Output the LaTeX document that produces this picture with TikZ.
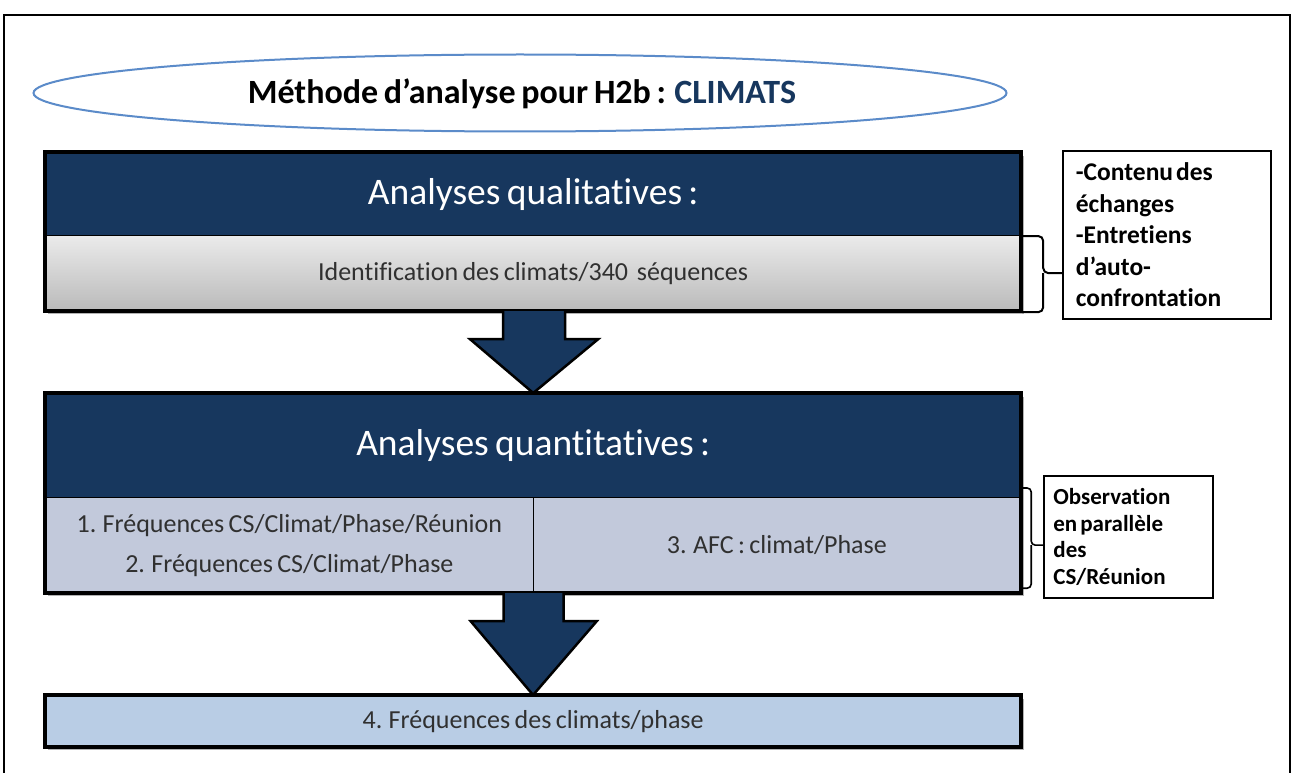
\documentclass[tikz,border=0pt]{standalone}
\usepackage{fontspec}
\setmainfont[Ligatures=CommonOff, WordSpace=0.75]{Carlito}
\usetikzlibrary{calc,shapes.geometric}
\definecolor{navy}{HTML}{17375E}
\definecolor{ellblue}{HTML}{5B8BC9}
\definecolor{lightq}{HTML}{C2C9DB}
\definecolor{lightf}{HTML}{B9CDE5}
\definecolor{txt}{HTML}{303030}
\begin{document}
\begin{tikzpicture}[x=1pt,y=-1pt,
  hdr/.style={fill=navy, draw=black, line width=1.5pt, anchor=north west, text=white, font=\fontsize{37.5}{42}\selectfont, inner sep=0pt},
  part/.style={draw=black, line width=1.2pt, anchor=north west, text=txt, font=\fontsize{26}{30}\selectfont, inner sep=0pt, align=center},
  side/.style={draw=black, line width=1.8pt, fill=white, inner sep=0pt, align=left, font=\bfseries\fontsize{25.5}{31.5}\selectfont},
  bigarrow/.style={fill=navy, draw=black, line width=2.5pt, line join=miter},
  outline/.style={draw=black, line width=3.5pt},
  shadowbox/.style={fill=black!30},
  bracket/.style={line width=2pt, rounded corners=5pt},
]
\useasboundingbox (0,0) rectangle (1293,773);
\clip (0,0) rectangle (1293,773);
% outer frame
\draw[line width=2pt] (4,15) rectangle (1290,800);
% title ellipse
\node[draw=ellblue, line width=2pt, ellipse, minimum width=973, minimum height=77] (title) at (520,93) {};
\node[font=\bfseries\fontsize{34}{38}\selectfont] (titletext) at (522,94) {Méthode d’analyse pour H2b : \textcolor{navy}{CLIMATS}};

% shadows
\fill[shadowbox] (48,156) rectangle (1024,314);
\fill[shadowbox] (48,397) rectangle (1024,596);
\fill[shadowbox] (48,699) rectangle (1024,750);

% box 1: qualitative
\node[hdr, minimum width=975, minimum height=83] (qh) at (45,152) {Analyses qualitatives :};
\node[part, minimum width=975, minimum height=75, shade, top color=black!8, bottom color=black!27] (ql) at (45,235) {Identification des climats/340\ \ séquences};
\draw[outline] (qh.north west) rectangle (ql.south east);

% box 2: quantitative
\node[hdr, minimum width=975, minimum height=104] (nh) at (45,393) {Analyses quantitatives :};
\node[part, fill=lightq, minimum width=487.5, minimum height=95] (n1) at (45,497) {1. Fréquences CS/Climat/Phase/Réunion\\[10pt]2. Fréquences CS/Climat/Phase};
\node[part, fill=lightq, minimum width=487.5, minimum height=95] (n2) at (532.5,497) {3. AFC : climat/Phase};
\draw[outline] (nh.north west) rectangle (n2.south east);

% box 3
\node[part, fill=lightf, minimum width=975, minimum height=51] (f) at (45,695) {4. Fréquences des climats/phase};
\draw[outline] (f.north west) rectangle (f.south east);

% block arrows
\draw[bigarrow] ($(ql.south)+(-30,0)$) -- ($(ql.south)+(-30,28)$) -- ($(ql.south)+(-63,28)$)
  -- (nh.north) -- ($(ql.south)+(65,28)$) -- ($(ql.south)+(32,28)$) -- ($(ql.south)+(32,0)$);
\draw[bigarrow] ($(n1.south east)+(-30,0)$) -- ($(n1.south east)+(-30,28)$) -- ($(n1.south east)+(-63,28)$)
  -- (f.north) -- ($(n1.south east)+(63,28)$) -- ($(n1.south east)+(30,28)$) -- ($(n1.south east)+(30,0)$);

% side notes
\node[side, minimum width=208, minimum height=168, text width=182, anchor=north west] (s1) at (1062,150)
  {-Contenu\hspace{3pt}des\\échanges\\-Entretiens\\d’auto-\\confrontation};
\node[side, minimum width=169, minimum height=122, text width=150, anchor=north west, font=\bfseries\fontsize{23}{26.5}\selectfont] (s2) at (1043,475)
  {Observation\\en\hspace{3pt}parallèle\\des\\CS/Réunion};

% brackets
\coordinate (t1) at (ql.east -| s1.west);
\coordinate (m1) at ($(ql.east)+(22,0)$);
\draw[bracket] ($(ql.north east)+(1,1)$) -| (m1) -- (t1);
\draw[bracket] (m1) |- ($(ql.south east)+(1,1)$);
\coordinate (t2) at (n2.east -| s2.west);
\coordinate (m2) at ($(n2.east)+(10,0)$);
\draw[bracket, line width=1.6pt, rounded corners=4pt] ($(n2.north east)+(1,-9)$) -| (m2) -- (t2);
\draw[bracket, line width=1.6pt, rounded corners=4pt] (m2) |- ($(n2.south east)+(1,-5)$);
\end{tikzpicture}
\end{document}
